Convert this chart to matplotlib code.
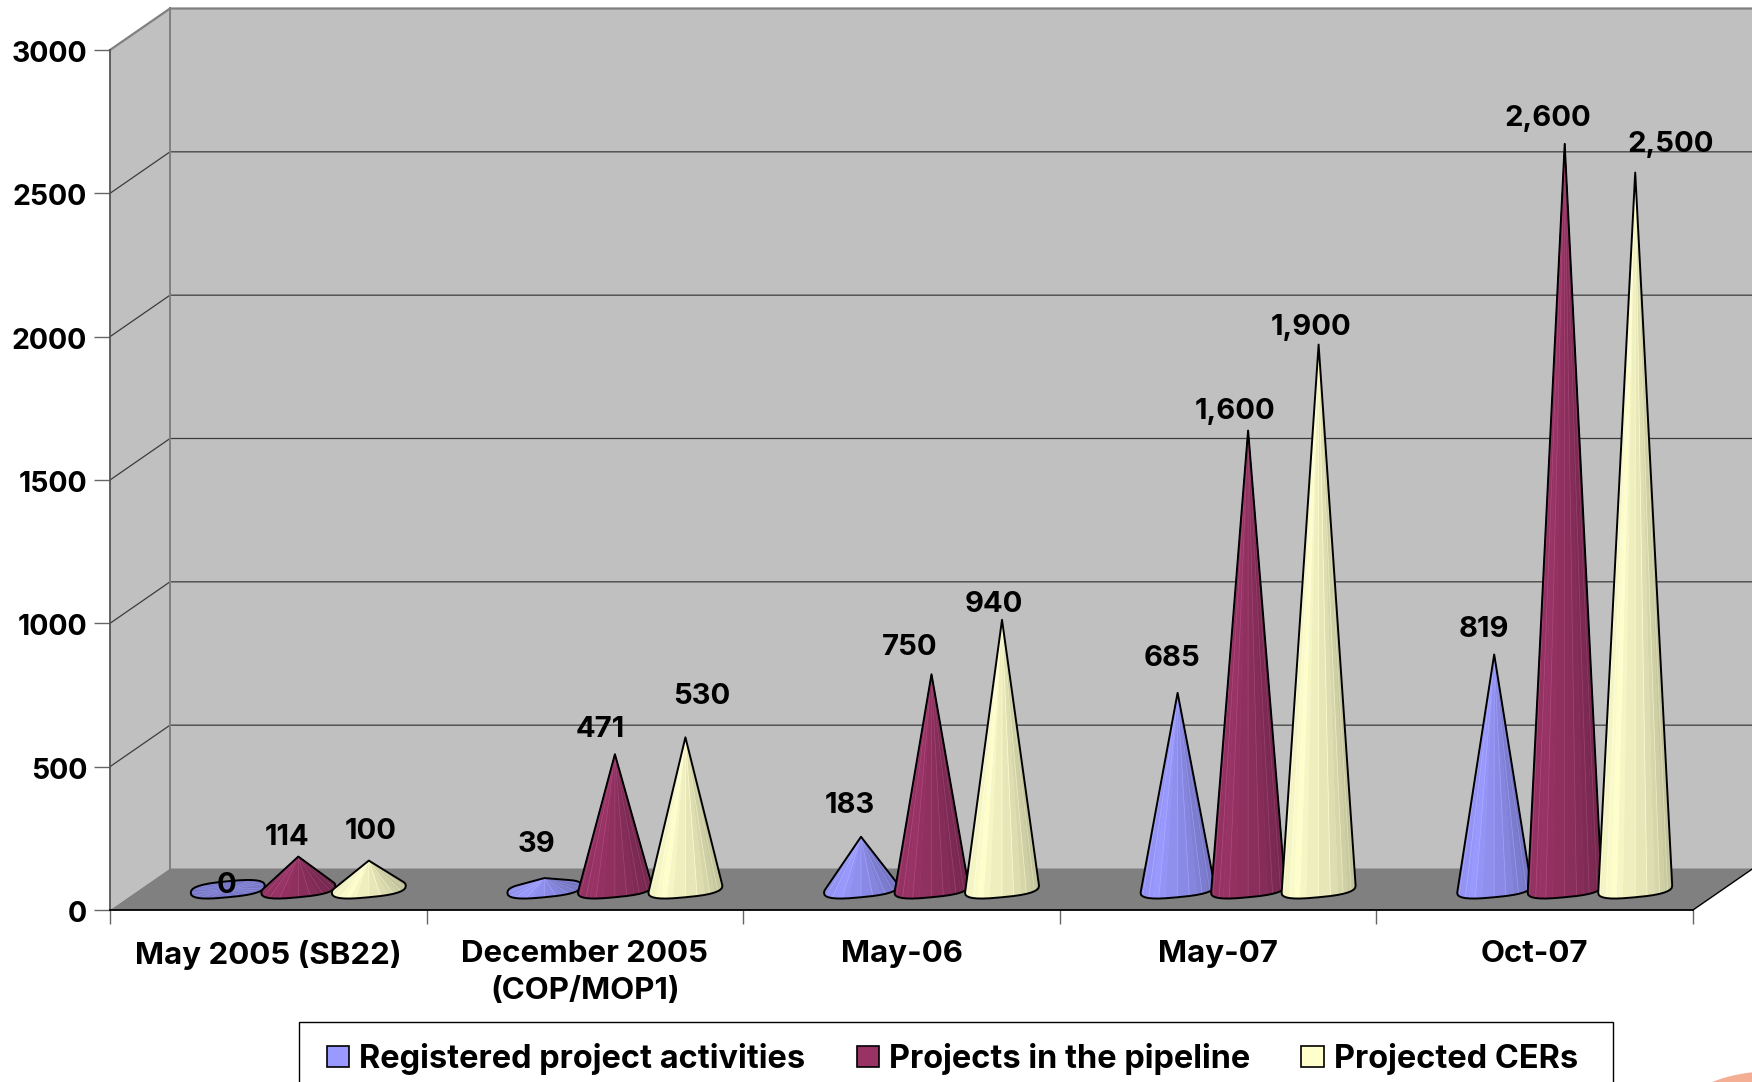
import numpy as np
import matplotlib
matplotlib.use("Agg")
import matplotlib.pyplot as plt
from matplotlib.patches import Polygon, Patch, Ellipse, Rectangle
from matplotlib.transforms import ScaledTranslation

plt.rcParams['font.family'] = ['Inter', 'Liberation Sans', 'DejaVu Sans']
plt.rcParams['font.weight'] = 'bold'

categories = ["May 2005 (SB22)", "December 2005\n(COP/MOP1)", "May-06", "May-07", "Oct-07"]
registered = [0, 39, 183, 685, 819]
pipeline = [114, 471, 750, 1600, 2600]
cers = [100, 530, 940, 1900, 2500]
series_names = ["Registered project activities", "Projects in the pipeline", "Projected CERs"]
yticks = [0, 500, 1000, 1500, 2000, 2500, 3000]
colors = ["#9999FF", "#993366", "#FFFFCC"]
series = [registered, pipeline, cers]
shown = [["0", "39", "183", "685", "819"],
         ["114", "471", "750", "1,600", "2,600"],
         ["100", "530", "940", "1,900", "2,500"]]

# label offset from the tip in pixels (hand placed in the original)
lab_dx = [[-1, -8, -11, -6, -10], [-11, -15, -22, -13, -17], [2, 16, -8, -8, 35]]
lab_dy = [[4, 34, 31, 34, 25], [19, 25, 27, 19, 25], [29, 41, 15, 17, 28]]

W, H = 1752, 1082
FS = 21
fig = plt.figure(figsize=(W/100, H/100), dpi=100, facecolor="white")
ax = fig.add_axes([110/W, 1-910/H, 1583/W, 860/H])
ax.set_xlim(0, 5)
ax.set_ylim(0, 3000)
ax.patch.set_visible(False)

px_x = 1583/5.0
px_y = 860/3000.0
depth_x = 60/px_x
depth_y = 41.5/px_y

# walls and floor
ax.add_patch(Polygon([[0, 0], [depth_x, depth_y], [depth_x, 3000+depth_y], [0, 3000]], closed=True,
                     fc="#C0C0C0", ec="none", clip_on=False, zorder=1))
ax.add_patch(Polygon([[depth_x, depth_y], [5+depth_x, depth_y], [5+depth_x, 3000+depth_y], [depth_x, 3000+depth_y]],
                     closed=True, fc="#C0C0C0", ec="none", clip_on=False, zorder=1))
ax.add_patch(Polygon([[0, 0], [5, 0], [5+depth_x, depth_y], [depth_x, depth_y]], closed=True,
                     fc="#808080", ec="none", clip_on=False, zorder=1))
for v in yticks[1:]:
    col = "#808080" if v == 3000 else "#3c3c3c"
    lw = 1.6 if v == 3000 else 0.9
    ax.plot([0, depth_x, 5+depth_x], [v, v+depth_y, v+depth_y], color=col, lw=lw, clip_on=False, zorder=2)
ax.plot([depth_x, depth_x], [depth_y, 3000+depth_y], color="#808080", lw=1.4, clip_on=False, zorder=2)
ax.plot([5, 5+depth_x], [0, depth_y], color="black", lw=1.0, clip_on=False, zorder=2)


def hull(pts):
    pts = sorted(set(map(tuple, pts)))
    def half(p):
        out = []
        for q in p:
            while len(out) > 1 and (out[-1][0]-out[-2][0])*(q[1]-out[-2][1])-(out[-1][1]-out[-2][1])*(q[0]-out[-2][0]) <= 0:
                out.pop()
            out.append(q)
        return out[:-1]
    return half(pts)+half(pts[::-1])


def shade(c, u, flat):
    rgb = np.array(matplotlib.colors.to_rgb(c))
    if flat:
        return tuple(rgb*0.78)
    if u < 0.25:
        f = 0.93+0.07*u/0.25
    else:
        f = 1-0.25*(u-0.25)/0.75
    return tuple(rgb*f)


def cone(cx, h, c, z):
    r = 37/px_x
    b = 8/px_y
    s = 3.5/px_y
    y0 = depth_y/2
    n = 32
    t = np.linspace(0, 2*np.pi, n+1)
    # base is a boxy tilted ellipse, right end higher
    ux = np.sign(np.cos(t))*np.abs(np.cos(t))**0.7
    uy = np.sign(np.sin(t))*np.abs(np.sin(t))**0.8
    bx = cx+r*ux
    by = y0+b*uy+s*ux
    tip = (cx, y0+h)
    order = np.argsort(-(np.sin(t[:-1]+np.pi/n)))
    for i in order:
        u = (1+np.cos(t[i]+np.pi/n))/2
        fc = shade(c, u, h == 0)
        edge = tuple(min(1, a+0.1) for a in fc) if i % 2 == 0 else fc
        ax.add_patch(Polygon([[bx[i], by[i]], [bx[i+1], by[i+1]], tip], closed=True, fc=fc, ec=edge, lw=0.5,
                             clip_on=False, zorder=z))
    ax.add_patch(Polygon(hull(list(zip(bx, by))+[tip]), closed=True, fc="none", ec="black", lw=1.4,
                         joinstyle="round", clip_on=False, zorder=z+0.5))


z = 3
for i in range(len(categories)):
    for j in range(3):
        cx = i+0.5+depth_x/2+(j-1)*0.2227
        cone(cx, series[j][i], colors[j], z)
        z = z+1
for i in range(len(categories)):
    for j in range(3):
        cx = i+0.5+depth_x/2+(j-1)*0.2227
        ax.annotate(shown[j][i], (cx, depth_y/2+series[j][i]),
                    xytext=(lab_dx[j][i]*0.72, lab_dy[j][i]*0.72), textcoords="offset points",
                    ha="center", va="center", fontsize=FS, color="black", zorder=100, annotation_clip=False)

# axes
for k in ["top", "right"]:
    ax.spines[k].set_visible(False)
ax.spines["left"].set_color("#555555")
ax.spines["left"].set_linewidth(1.3)
ax.spines["left"].set_zorder(60)
ax.spines["bottom"].set_color("black")
ax.spines["bottom"].set_linewidth(1.3)
ax.spines["bottom"].set_zorder(60)
ax.set_yticks(yticks)
ax.tick_params(axis="y", length=11.5, width=1, color="#666666", pad=5, labelsize=20.5)
shift = ScaledTranslation(0, -1.0/72, fig.dpi_scale_trans)
for lab in ax.get_yticklabels():
    lab.set_transform(lab.get_transform()+shift)
ax.set_xticks(np.arange(0, 6))
ax.set_xticklabels([])
ax.tick_params(axis="x", which="major", length=10, width=1, color="#666666")
ax.set_xticks(np.arange(5)+0.5, minor=True)
ax.set_xticklabels(categories, minor=True, fontsize=22.5, linespacing=1.42)
ax.tick_params(axis="x", which="minor", length=0, pad=21.5)

# legend runs off the bottom of the slide, so the box is drawn on its own
fig.add_artist(Rectangle((299/W, 1-1100/H), 1314/W, 78/H, transform=fig.transFigure, fc="white", ec="black", lw=1.0))
handles = [Patch(fc=colors[j], ec="black", lw=1.2, label=series_names[j]) for j in range(3)]
leg = fig.legend(handles=handles, ncol=3, loc="upper left", bbox_to_anchor=(327/W, 1-1043/H),
                 fontsize=23.4, frameon=False,
                 handlelength=0.68, handleheight=0.6, handletextpad=0.31, columnspacing=1.58,
                 borderpad=0, borderaxespad=0)

# corner of the slide logo
fig.add_artist(Ellipse((1775/W, 1-1110/H), 180/W, 78/H, transform=fig.transFigure, fc="#F4AE94", ec="none"))

fig.savefig("out.png", dpi=100)
